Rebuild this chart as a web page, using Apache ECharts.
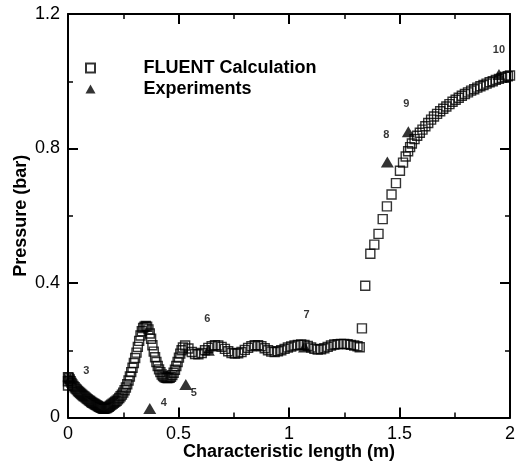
<!DOCTYPE html>
<html>
<head>
<meta charset="utf-8">
<script src="https://cdn.jsdelivr.net/npm/echarts@6/dist/echarts.min.js"></script>
<style>
html,body{margin:0;padding:0;background:#fff;}
#chart{width:522px;height:467px;}
</style>
</head>
<body>
<div id="chart"></div>
<script>
// ---- data ----
const fluentX = [
  0, 0, 0, 0.004, 0.008, 0.012, 0.016, 0.02, 0.025, 0.03, 0.035, 0.04, 0.045, 0.05, 0.055, 0.06, 0.065, 0.07, 0.075, 0.08,
  0.085, 0.09, 0.095, 0.1, 0.105, 0.11, 0.115, 0.12, 0.125, 0.13, 0.135, 0.14, 0.145, 0.15, 0.155, 0.16, 0.165,
  0.17, 0.175, 0.18, 0.185, 0.19, 0.196, 0.202, 0.208, 0.214, 0.22, 0.226, 0.232, 0.238, 0.244, 0.25, 0.256, 0.262, 0.268,
  0.274, 0.28, 0.286, 0.292, 0.298, 0.304, 0.31, 0.316, 0.322, 0.328, 0.334, 0.34, 0.346, 0.352, 0.358, 0.364, 0.37,
  0.376, 0.382, 0.388, 0.394, 0.4, 0.406, 0.412, 0.418, 0.424, 0.43, 0.436, 0.442, 0.448, 0.454, 0.46, 0.466, 0.472,
  0.478, 0.484, 0.49, 0.496, 0.502, 0.508, 0.514, 0.52,
  0.53, 0.545, 0.56, 0.575, 0.59, 0.605, 0.62, 0.635, 0.65, 0.665, 0.68, 0.695, 0.71, 0.725, 0.74, 0.755, 0.77, 0.785,
  0.8, 0.815, 0.83, 0.845, 0.86, 0.875, 0.89, 0.905, 0.92, 0.935, 0.95, 0.965, 0.98, 0.995, 1.01, 1.025, 1.04, 1.055,
  1.07, 1.085, 1.1, 1.115, 1.13, 1.145, 1.16, 1.175, 1.19, 1.205, 1.22, 1.235, 1.25, 1.265, 1.28, 1.295, 1.31, 1.32,
  1.33, 1.345, 1.368, 1.386, 1.405, 1.424, 1.443, 1.464, 1.484, 1.502, 1.516, 1.528, 1.539, 1.548,
  1.556, 1.568, 1.58, 1.592, 1.604, 1.617, 1.63, 1.643, 1.656, 1.67, 1.684, 1.698, 1.712, 1.726, 1.74, 1.754, 1.768,
  1.782, 1.796, 1.81, 1.824, 1.838, 1.852, 1.866, 1.88, 1.894, 1.908, 1.922, 1.936, 1.95, 1.964, 1.978, 1.99, 2.0
];
const fluentY = [
  0.095, 0.108, 0.12, 0.118, 0.113, 0.108, 0.103, 0.098, 0.094, 0.09, 0.086, 0.083, 0.079, 0.076, 0.073, 0.07, 0.067, 0.064, 0.062, 0.059,
  0.056, 0.054, 0.051, 0.049, 0.046, 0.044, 0.042, 0.04, 0.038, 0.036, 0.034, 0.032, 0.03, 0.029, 0.027, 0.026, 0.026,
  0.027, 0.028, 0.03, 0.032, 0.035, 0.038, 0.041, 0.044, 0.047, 0.05, 0.054, 0.058, 0.063, 0.068, 0.074, 0.081, 0.089, 0.099,
  0.11, 0.122, 0.135, 0.148, 0.162, 0.177, 0.193, 0.21, 0.228, 0.244, 0.257, 0.266, 0.27, 0.272, 0.27, 0.262, 0.25,
  0.234, 0.215, 0.196, 0.179, 0.165, 0.153, 0.143, 0.135, 0.128, 0.123, 0.12, 0.118, 0.117, 0.117, 0.118, 0.121, 0.126,
  0.133, 0.142, 0.153, 0.165, 0.178, 0.19, 0.2, 0.208,
  0.214, 0.205, 0.195, 0.189, 0.188, 0.192, 0.2, 0.207, 0.212, 0.215, 0.214, 0.21, 0.204, 0.197, 0.192, 0.19, 0.191, 0.195,
  0.201, 0.207, 0.212, 0.215, 0.215, 0.212, 0.206, 0.2, 0.196, 0.195, 0.197, 0.2, 0.204, 0.208, 0.211, 0.214, 0.216, 0.217,
  0.216, 0.213, 0.208, 0.204, 0.202, 0.203, 0.206, 0.21, 0.214, 0.217, 0.218, 0.219, 0.219, 0.218, 0.216, 0.214, 0.212, 0.209,
  0.265, 0.392, 0.487, 0.514, 0.546, 0.59, 0.628, 0.663, 0.697, 0.734, 0.758, 0.776, 0.792, 0.804,
  0.815, 0.828, 0.838, 0.847, 0.856, 0.866, 0.876, 0.886, 0.895, 0.903, 0.911, 0.918, 0.925, 0.932, 0.939, 0.945, 0.951,
  0.957, 0.962, 0.967, 0.972, 0.976, 0.981, 0.985, 0.989, 0.993, 0.997, 1.0, 1.004, 1.007, 1.01, 1.013, 1.015, 1.017
];
const expX = [0.01, 0.37, 0.533, 0.635, 1.07, 1.445, 1.54, 1.95];
const expY = [0.115, 0.027, 0.098, 0.2, 0.21, 0.76, 0.85, 1.02];
const expLabels = ['3', '4', '5', '6', '7', '8', '9', '10'];
const seriesNames = ['FLUENT Calculation', 'Experiments'];
const xTitle = 'Characteristic length (m)';
const yTitle = 'Pressure (bar)';

// ---- styling ----
const FONT = 'Liberation Sans, Arial, Helvetica, sans-serif';
const labelOffsets = [[16, -8], [14, -5], [8, 8], [-1, -31], [2, -32], [-1, -27], [-2, -28], [0, -25]];

const fluentData = fluentX.map((x, i) => [x, fluentY[i]]);
const expData = expX.map((x, i) => ({
  value: [x, expY[i]],
  label: { formatter: expLabels[i], offset: labelOffsets[i] }
}));

function axisCommon(showLabel) {
  return {
    type: 'value',
    axisLine: { show: true, onZero: false, lineStyle: { color: '#000', width: 2 } },
    axisTick: { show: true, inside: true, length: 10, lineStyle: { color: '#000', width: 2 } },
    minorTick: { show: true, splitNumber: 2, length: 5, lineStyle: { color: '#000', width: 1.5 } },
    splitLine: { show: false },
    minorSplitLine: { show: false },
    axisLabel: { show: showLabel, color: '#000', fontSize: 18, fontFamily: FONT, margin: 8 }
  };
}

const option = {
  backgroundColor: '#fff',
  animation: false,
  grid: { left: 68, right: 12, top: 14, bottom: 49.5 },
  xAxis: [
    Object.assign(axisCommon(true), {
      min: 0, max: 2, interval: 0.5, position: 'bottom',
      name: xTitle, nameLocation: 'middle', nameGap: 26, nameMoveOverlap: false,
      nameTextStyle: { color: '#000', fontSize: 18, fontWeight: 'bold', fontFamily: FONT }
    }),
    Object.assign(axisCommon(false), { min: 0, max: 2, interval: 0.5, position: 'top' })
  ],
  yAxis: [
    Object.assign(axisCommon(true), {
      min: 0, max: 1.2, interval: 0.4, position: 'left',
      name: yTitle, nameLocation: 'middle', nameGap: 38, nameMoveOverlap: false,
      nameTextStyle: { color: '#000', fontSize: 18, fontWeight: 'bold', fontFamily: FONT }
    }),
    Object.assign(axisCommon(false), { min: 0, max: 1.2, interval: 0.4, position: 'right' })
  ],
  legend: {
    orient: 'vertical',
    left: 85, top: 59,
    padding: 0,
    itemWidth: 96, itemHeight: 9, itemGap: 3,
    selectedMode: false,
    textStyle: { color: '#000', fontSize: 18, fontWeight: 'bold', fontFamily: FONT },
    data: [
      { name: seriesNames[0], icon: 'path://M0,0L10,0L10,10L0,10Z' },
      { name: seriesNames[1], icon: 'path://M5,0L10,9L0,9Z' }
    ]
  },
  series: [
    {
      name: seriesNames[0],
      type: 'scatter',
      symbol: 'rect',
      symbolSize: 9,
      itemStyle: { color: 'transparent', borderColor: '#000', borderWidth: 1.4 },
      data: fluentData,
      z: 2,
      silent: true
    },
    {
      name: seriesNames[1],
      type: 'scatter',
      symbol: 'triangle',
      symbolSize: [13, 11],
      itemStyle: { color: '#000' },
      label: {
        show: true, position: 'inside', color: '#000',
        fontSize: 11, fontWeight: 'bold', fontFamily: FONT
      },
      data: expData,
      z: 3,
      silent: true
    }
  ]
};

const chart = echarts.init(document.getElementById('chart'), null, { renderer: 'canvas' });
chart.setOption(option);
</script>
</body>
</html>
